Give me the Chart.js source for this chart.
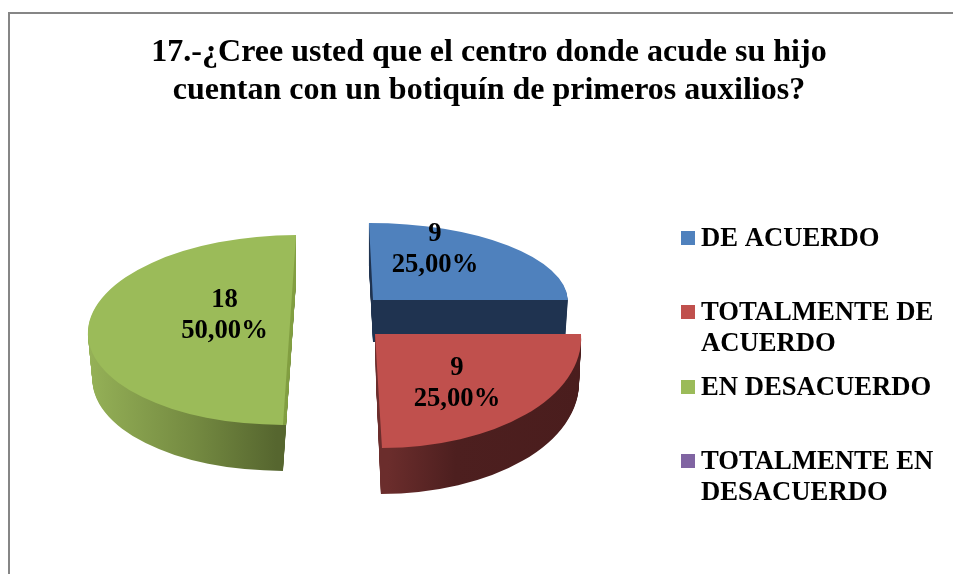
<!DOCTYPE html>
<html><head><meta charset="utf-8">
<style>html,body{margin:0;padding:0;background:#fff}#wrap{width:953px;height:574px}</style>
<script src="https://cdn.jsdelivr.net/npm/chart.js@4"></script>
</head><body><div id="wrap"><canvas id="c" width="953" height="574"></canvas></div>
<script>
const titleLines = ["17.-¿Cree usted que el centro donde acude su hijo","cuentan con un botiquín de primeros auxilios?"];
const categories = ["DE ACUERDO","TOTALMENTE DE ACUERDO","EN DESACUERDO","TOTALMENTE EN DESACUERDO"];
const legendLines = [["DE ACUERDO"],["TOTALMENTE DE","ACUERDO"],["EN DESACUERDO"],["TOTALMENTE EN","DESACUERDO"]];
const counts = [9,9,18,0];
const percentLabels = ["25,00%","25,00%","50,00%","0,00%"];
const colors = ["#4f81bd","#c0504d","#9bbb59","#8064a2"];
const FONT = '"Liberation Serif"';

// 3D view of each slice: explode offset from the pie centre and radii as fractions of the pie radius
const view = [
 {top:{dx:-116,dy:-35,sx:.951,sy:.376,sk:.02},bot:{dx:-116,dy:7,sx:.937,sy:.376,sk:.02},
  side:[[373,"#1f3350"],[568,"#1f3350"]],label:[62,-50],order:0},
 {top:{dx:-114,dy:-1,sx:1.005,sy:.556,sk:.034},bot:{dx:-113,dy:45,sx:.99,sy:.556,sk:.024},
  side:[[382,"#6b2d2c"],[450,"#4d1f1f"],[580,"#4a1d1d"]],label:[82,50],order:2},
 {top:{dx:-199.5,dy:-5,sx:.983,sy:.463,sk:-.032},bot:{dx:-199.5,dy:41,sx:.961,sy:.463,sk:-.032},
  side:[[90,"#95b157"],[200,"#748a41"],[283,"#56662f"]],edge:"#84a045",label:[-65,-14],order:1},
 null
];

function matrix(el, v){
  const R = el.outerRadius, a = v.sx, d = v.sy, c = v.sk;
  const cx = el.x + v.dx, cy = el.y + v.dy;
  return {a, c, d, e: cx - el.x*a - el.y*c, f: cy - el.y*d, cx, cy, R};
}
function lerp(p,q,t){const o={};for(const k in p)o[k]=p[k]+(q[k]-p[k])*t;return o;}

function drawWith(ctx, el, m, fill){
  ctx.save();
  ctx.transform(m.a,0,m.c,m.d,m.e,m.f);
  const saved = el.options;
  el.options = Object.assign({}, saved, {backgroundColor: fill, borderWidth: 0, borderColor:'transparent'});
  el.draw(ctx);
  el.options = saved;
  ctx.restore();
}

const pie3d = {
  id:'pie3d',
  beforeDraw(chart){
    const ctx = chart.ctx;
    ctx.save();
    ctx.fillStyle='#fff';ctx.fillRect(0,0,chart.width,chart.height);
    ctx.strokeStyle='#868686';ctx.lineWidth=2;
    ctx.beginPath();ctx.moveTo(9,chart.height);ctx.lineTo(9,13);ctx.lineTo(chart.width,13);ctx.stroke();
    ctx.restore();
  },
  beforeDatasetsDraw(chart){
    const ctx = chart.ctx, meta = chart.getDatasetMeta(0);
    const idx = view.map((v,i)=>v?i:-1).filter(i=>i>=0).sort((p,q)=>view[p].order-view[q].order);
    for(const i of idx){
      const el = meta.data[i], v = view[i];
      if(!el.circumference) continue;
      const depth = Math.round(v.bot.dy - v.top.dy);
      for(let k=depth;k>=1;k--){
        const m = matrix(el, lerp(v.top,v.bot,k/depth));
        const yL = el.y; // gradient along screen x, expressed in the slice's local space
        const toL = sx => (sx - m.e - m.c*yL)/m.a;
        const x0 = v.side[0][0], x1 = v.side[v.side.length-1][0];
        const g = ctx.createLinearGradient(toL(x0),yL,toL(x1),yL);
        v.side.forEach(s=>g.addColorStop((s[0]-x0)/(x1-x0),s[1]));
        drawWith(ctx, el, m, g);
      }
      const mt = matrix(el, v.top);
      if(v.edge){
        // the flat cut face beside the top surface is lit evenly
        const fx = mt.cx + mt.c*el.outerRadius, fy = mt.cy + mt.d*el.outerRadius;
        ctx.save();ctx.beginPath();ctx.rect(fx,0,40,fy);ctx.clip();
        for(let k=depth;k>=1;k--) drawWith(ctx, el, matrix(el, lerp(v.top,v.bot,k/depth)), v.edge);
        ctx.restore();
      }
      drawWith(ctx, el, mt, el.options.backgroundColor);
    }
    return false;
  },
  afterDraw(chart){
    const ctx = chart.ctx, meta = chart.getDatasetMeta(0);
    ctx.save();
    ctx.fillStyle='#000';ctx.textAlign='center';ctx.textBaseline='middle';
    ctx.font='bold 26.67px '+FONT;
    counts.forEach((n,i)=>{
      const v = view[i]; if(!v||!n) return;
      const el = meta.data[i];
      const x = el.x+v.top.dx+v.label[0], y = el.y+v.top.dy+v.label[1];
      ctx.fillText(String(n),x,y-16);
      ctx.fillText(percentLabels[i],x,y+15);
    });
    // legend
    const slotTop = [231,305,380,454];
    legendLines.forEach((lines,i)=>{
      ctx.fillStyle=colors[i];
      ctx.fillRect(681,slotTop[i],14,14);
      ctx.fillStyle='#000';ctx.textAlign='left';ctx.textBaseline='alphabetic';
      lines.forEach((t,j)=>ctx.fillText(t,701,slotTop[i]+15+j*31));
    });
    ctx.restore();
  }
};

new Chart(document.getElementById('c'),{
  type:'pie',
  data:{labels:categories,datasets:[{data:counts,backgroundColor:colors,borderWidth:0}]},
  options:{
    responsive:false,animation:false,
    layout:{padding:{left:25,right:0,top:0,bottom:34}},
    plugins:{
      legend:{display:false},tooltip:{enabled:false},
      title:{display:true,text:titleLines,color:'#000',align:'center',
        font:{family:FONT,size:32,weight:'bold',lineHeight:1.18},padding:{top:34,bottom:20.5}}
    }
  },
  plugins:[pie3d]
});
</script></body></html>
